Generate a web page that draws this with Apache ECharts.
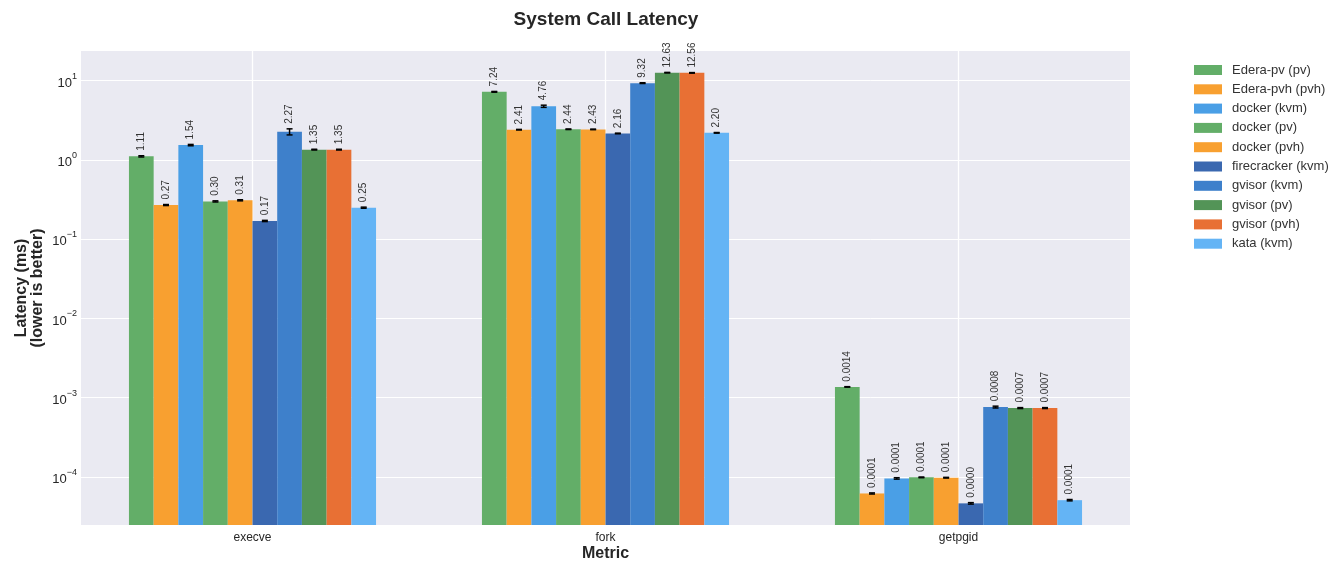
<!DOCTYPE html>
<html>
<head>
<meta charset="utf-8">
<script src="https://cdn.jsdelivr.net/npm/echarts@6/dist/echarts.min.js"></script>
<style>
html,body{margin:0;padding:0;background:#fff;}
#chart{width:1343px;height:564px;}
</style>
</head>
<body>
<div id="chart"></div>
<script>
// ---- data ----
const categories = ['execve', 'fork', 'getpgid'];
const seriesNames = ['Edera-pv (pv)', 'Edera-pvh (pvh)', 'docker (kvm)', 'docker (pv)', 'docker (pvh)',
  'firecracker (kvm)', 'gvisor (kvm)', 'gvisor (pv)', 'gvisor (pvh)', 'kata (kvm)'];
const seriesColors = ['#63AE68', '#F8A030', '#4A9FE6', '#63AE68', '#F8A030',
  '#3A68B0', '#3E80CB', '#539457', '#E87034', '#64B4F5'];

// values per series: [execve, fork, getpgid] (ms)
const ederaPv      = [1.11, 7.24, 0.00137];
const ederaPvh     = [0.27, 2.41, 0.000062];
const dockerKvm    = [1.54, 4.76, 0.000096];
const dockerPv     = [0.30, 2.44, 0.000099];
const dockerPvh    = [0.31, 2.43, 0.000098];
const firecracker  = [0.17, 2.16, 0.0000465];
const gvisorKvm    = [2.27, 9.32, 0.000763];
const gvisorPv     = [1.35, 12.63, 0.000741];
const gvisorPvh    = [1.35, 12.56, 0.000741];
const kataKvm      = [0.25, 2.20, 0.000051];

// error (std) per series: [execve, fork, getpgid]
const ederaPvErr     = [0.02, 0.08, 0.00001];
const ederaPvhErr    = [0.004, 0.02, 0.000001];
const dockerKvmErr   = [0.03, 0.15, 0.000002];
const dockerPvErr    = [0.005, 0.02, 0.000001];
const dockerPvhErr   = [0.005, 0.02, 0.000001];
const firecrackerErr = [0.003, 0.02, 0.000001];
const gvisorKvmErr   = [0.2, 0.1, 0.00002];
const gvisorPvErr    = [0.015, 0.1, 0.00001];
const gvisorPvhErr   = [0.015, 0.1, 0.00001];
const kataKvmErr     = [0.004, 0.02, 0.000001];

const yTickMin = 2.48e-5;
const yTickMax = 23.7;

const allValues = [ederaPv, ederaPvh, dockerKvm, dockerPv, dockerPvh, firecracker, gvisorKvm, gvisorPv, gvisorPvh, kataKvm];
const allErrors = [ederaPvErr, ederaPvhErr, dockerKvmErr, dockerPvErr, dockerPvhErr, firecrackerErr, gvisorKvmErr, gvisorPvErr, gvisorPvhErr, kataKvmErr];

// ---- chart ----
const FONT = 'Liberation Sans, Arial, Helvetica, sans-serif';
const N = seriesNames.length;
const GROUP_FRAC = 0.7;

function fmtVal(v) { return v < 0.01 ? v.toFixed(4) : v.toFixed(2); }

function makeRender(k) {
  return function (params, api) {
    const ci = api.value(0), v = api.value(1), e = api.value(2);
    const c = api.coord([ci, v]);
    const band = api.size([1, 0])[0];
    const bw = band * GROUP_FRAC / N;
    const x0 = c[0] - band * GROUP_FRAC / 2 + k * bw;
    const xc = x0 + bw / 2;
    const cs = params.coordSys;
    const yBottom = cs.y + cs.height;
    const yHi = api.coord([ci, v + e])[1];
    const yLo = api.coord([ci, v - e])[1];
    const cap = 3;
    return {
      type: 'group',
      children: [
        { type: 'rect', shape: { x: x0, y: c[1], width: bw, height: yBottom - c[1] },
          style: { fill: api.visual('color') } },
        { type: 'line', shape: { x1: xc, y1: yHi, x2: xc, y2: yLo }, style: { stroke: '#000', lineWidth: 1.5 } },
        { type: 'line', shape: { x1: xc - cap, y1: yHi, x2: xc + cap, y2: yHi }, style: { stroke: '#000', lineWidth: 1.5 } },
        { type: 'line', shape: { x1: xc - cap, y1: yLo, x2: xc + cap, y2: yLo }, style: { stroke: '#000', lineWidth: 1.5 } },
        { type: 'text', x: xc, y: yHi - 5, rotation: Math.PI / 2,
          style: { text: fmtVal(v), fontSize: 10, fontFamily: FONT, fill: '#333', align: 'left', verticalAlign: 'middle' } }
      ]
    };
  };
}

const series = seriesNames.map(function (name, k) {
  return {
    name: name,
    type: 'custom',
    coordinateSystem: 'cartesian2d',
    itemStyle: { color: seriesColors[k] },
    encode: { x: 0, y: 1 },
    renderItem: makeRender(k),
    clip: false,
    z: 3,
    data: categories.map(function (c, i) { return [i, allValues[k][i], allErrors[k][i]]; })
  };
});

const chart = echarts.init(document.getElementById('chart'), null, { renderer: 'canvas' });
chart.setOption({
  animation: false,
  backgroundColor: '#ffffff',
  textStyle: { fontFamily: FONT },
  title: {
    text: 'System Call Latency',
    left: 601, top: 5, textAlign: 'center',
    textStyle: { fontSize: 19, fontWeight: 'bold', color: '#262626', fontFamily: FONT }
  },
  graphic: [{
    type: 'rect', z: -100, silent: true,
    shape: { x: 81, y: 51, width: 1049, height: 474 },
    style: { fill: '#EAEAF2' }
  }],
  legend: {
    data: seriesNames,
    orient: 'vertical',
    left: 1189, top: 58.5,
    icon: 'rect',
    itemWidth: 28, itemHeight: 10, itemGap: 6.3,
    textStyle: { fontSize: 13, color: '#333', fontFamily: FONT, padding: [0, 0, 0, 5] }
  },
  grid: { left: 76, right: 208, top: 51, bottom: 39, containLabel: false, outerBoundsMode: 'none' },
  xAxis: {
    type: 'category',
    data: categories,
    boundaryGap: true,
    axisLine: { show: false },
    axisTick: { show: false, alignWithLabel: true },
    axisLabel: { fontSize: 12, color: '#262626', margin: 7, fontFamily: FONT },
    splitLine: { show: true, alignWithLabel: true, lineStyle: { color: '#ffffff', width: 1.3 } },
    name: 'Metric',
    nameLocation: 'middle',
    nameGap: 21,
    nameMoveOverlap: false,
    nameTextStyle: { fontSize: 16, fontWeight: 'bold', color: '#262626', fontFamily: FONT }
  },
  yAxis: {
    type: 'log',
    logBase: 10,
    min: yTickMin,
    max: yTickMax,
    offset: -5,
    axisLine: { show: false },
    axisTick: { show: false },
    splitLine: { show: true, showMinLine: false, showMaxLine: false, lineStyle: { color: '#ffffff', width: 1 } },
    axisLabel: {
      showMinLabel: false, showMaxLabel: false, margin: 4,
      formatter: function (val) {
        const e = Math.round(Math.log10(val));
        return '{b|10}{s|' + (e < 0 ? '\u2212' + (-e) : e) + '}';
      },
      rich: {
        b: { fontSize: 13, color: '#262626', lineHeight: 18, verticalAlign: 'bottom', fontFamily: FONT },
        s: { fontSize: 9, color: '#262626', lineHeight: 9, verticalAlign: 'top', fontFamily: FONT }
      }
    },
    name: 'Latency (ms)\n(lower is better)',
    nameLocation: 'middle',
    nameGap: 35,
    nameMoveOverlap: false,
    nameTextStyle: { fontSize: 16, fontWeight: 'bold', color: '#262626', lineHeight: 16.5, fontFamily: FONT }
  },
  series: series
});
</script>
</body>
</html>
